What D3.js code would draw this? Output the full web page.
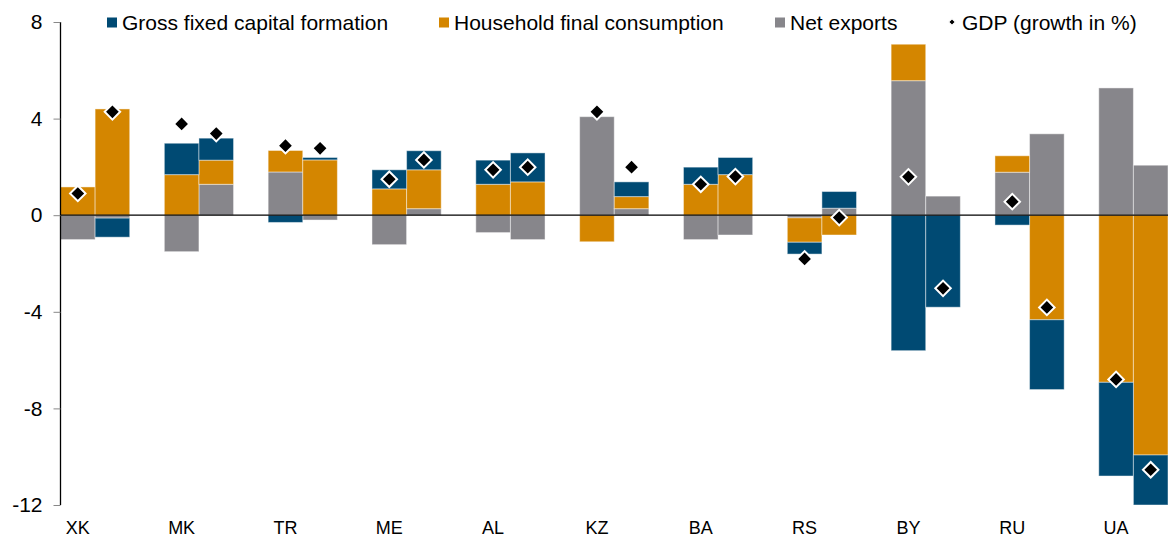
<!DOCTYPE html>
<html><head><meta charset="utf-8">
<script src="https://cdn.jsdelivr.net/npm/d3@7"></script>
<style>body{margin:0;background:#fff}svg{display:block;font-family:"Liberation Sans",Arial,sans-serif}</style>
</head><body><svg id="c" width="1172" height="537"></svg>
<script>
const countries = ["XK","MK","TR","ME","AL","KZ","BA","RS","BY","RU","UA"];
const seriesNames = ["Gross fixed capital formation","Household final consumption","Net exports","GDP (growth in %)"];
const yTicks = [-12,-8,-4,0,4,8];
// first bar of each country
const gfcfA = [0, 1.30, -0.30, 0.79, 1.00, 0, 0.71, -0.49, -5.61, -0.41, -3.88];
const hfcA  = [1.17, 1.68, 0.89, 1.09, 1.28, -1.10, 1.28, -1.01, 1.51, 0.68, -6.92];
const nxA   = [-1.01, -1.51, 1.79, -1.22, -0.72, 4.08, -1.01, -0.11, 5.57, 1.78, 5.27];
const gdpA  = [0.90, 3.78, 2.88, 1.49, 1.88, 4.28, 1.28, -1.81, 1.59, 0.56, -6.80];
// second bar of each country
const gfcfB = [-0.79, 0.91, 0.10, 0.79, 1.20, 0.61, 0.71, 0.69, -3.81, -2.89, -2.07];
const hfcB  = [4.40, 1.00, 2.29, 1.61, 1.38, 0.50, 1.68, -0.82, 0, -4.33, -9.93];
const nxB   = [-0.12, 1.28, -0.20, 0.27, -1.01, 0.27, -0.82, 0.29, 0.79, 3.37, 2.07];
const gdpB  = [4.28, 3.38, 2.77, 2.29, 1.99, 1.99, 1.60, -0.10, -3.03, -3.82, -10.54];

const colors = {gfcf:"#004A73", hfc:"#D48600", nx:"#87868B"};
const svg = d3.select("#c");
const x = d3.scaleBand().domain(countries).range([60.5, 1168]).paddingInner(1/3).paddingOuter(0);
const y = d3.scaleLinear().domain([-12, 8]).range([505, 22]);
const half = x.bandwidth()/2;

const rows = [];
countries.forEach((c,i)=>{
  rows.push({c, k:0, nx:nxA[i], hfc:hfcA[i], gfcf:gfcfA[i], gdp:gdpA[i]});
  rows.push({c, k:1, nx:nxB[i], hfc:hfcB[i], gfcf:gfcfB[i], gdp:gdpB[i]});
});
const stack = d3.stack().keys(["nx","hfc","gfcf"]).offset(d3.stackOffsetDiverging);
const layers = stack(rows);
const bx = d => x(d.data.c) + d.data.k*half;

svg.append("g").selectAll("g").data(layers).join("g")
  .attr("fill", l => colors[l.key])
  .selectAll("rect").data(l => l.filter(d => d[1]-d[0] !== 0)).join("rect")
  .attr("x", bx).attr("width", half)
  .attr("y", d => y(Math.max(d[0],d[1])))
  .attr("height", d => Math.abs(y(d[0])-y(d[1])))
  .attr("stroke","rgba(255,255,255,0.45)").attr("stroke-width",1);

// zero line
svg.append("line").attr("x1",60).attr("x2",1168).attr("y1",y(0)).attr("y2",y(0))
  .attr("stroke","#000").attr("stroke-width",1.3);

// y axis
const ya = svg.append("g").attr("transform","translate(60.5,0)")
  .call(d3.axisLeft(y).tickValues(yTicks).tickSize(7).tickPadding(11).tickFormat(d => String(d)));
ya.select(".domain").attr("stroke","#000").attr("stroke-width",1.3).attr("d","M0,"+y(8)+"V"+y(-12));
ya.selectAll(".tick line").attr("stroke","#888");
ya.selectAll(".tick text").attr("font-size",21).attr("fill","#000").attr("font-family","Liberation Sans, Arial, sans-serif");

// x labels
svg.append("g").selectAll("text").data(countries).join("text")
  .attr("x", c => x(c) + half/2).attr("y", 534)
  .attr("text-anchor","middle").attr("font-size",18).attr("fill","#000").text(c=>c);

// GDP diamonds
const diamond = d3.symbol(d3.symbolSquare, 120);
svg.append("g").selectAll("path").data(rows).join("path")
  .attr("d", diamond)
  .attr("transform", d => `translate(${x(d.c)+d.k*half+half/2},${y(d.gdp)}) rotate(45)`)
  .attr("fill","#000").attr("stroke","#fff").attr("stroke-width",2);

// legend
const leg = svg.append("g");
const legItems = [
  {t:seriesNames[0], c:colors.gfcf, x:107, tx:122},
  {t:seriesNames[1], c:colors.hfc, x:439, tx:454},
  {t:seriesNames[2], c:colors.nx, x:775, tx:790},
];
legItems.forEach(it=>{
  leg.append("rect").attr("x",it.x).attr("y",17.5).attr("width",10).attr("height",10).attr("fill",it.c);
  leg.append("text").attr("x",it.tx).attr("y",22.5).attr("dy","0.35em").attr("font-size",21).attr("fill","#000").text(it.t);
});
leg.append("path").attr("d", d3.symbol(d3.symbolSquare, 22)).attr("transform","translate(952,22) rotate(45)").attr("fill","#000").attr("stroke","#fff");
leg.append("text").attr("x",962).attr("y",22.5).attr("dy","0.35em").attr("font-size",21).attr("fill","#000").text(seriesNames[3]);
</script></body></html>
